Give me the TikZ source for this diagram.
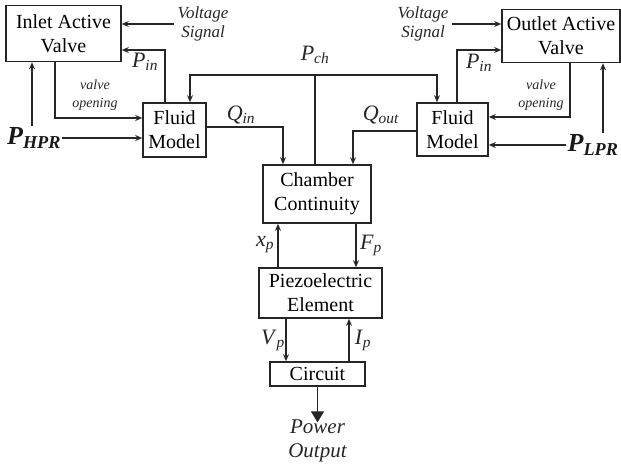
\documentclass[tikz,border=0pt]{standalone}
\usepackage{fontspec}
\setmainfont{Liberation Serif}
\usetikzlibrary{arrows.meta,calc}
\newcommand\lab[2]{\textit{#1}\textsubscript{\textit{#2}}}
\newcommand\blab[2]{\textbf{\textit{#1}}\textsubscript{\textbf{\textit{#2}}}}
\tikzset{
  blk/.style={draw=black!85, line width=1.6pt, align=center, inner sep=0pt,
    font=\fontsize{20}{24}\selectfont},
  arr/.style={draw=black!85, line width=1.2pt, -{Stealth[length=7pt,width=6pt]}},
  ln/.style={draw=black!85, line width=1.2pt},
  sig/.style={align=center, font=\fontsize{17}{19}\selectfont\itshape, text=black!85},
  vo/.style={align=center, font=\fontsize{14}{18}\selectfont\itshape, text=black!85},
  ml/.style={font=\fontsize{22}{24}\selectfont, text=black!85, inner sep=1pt},
  bl/.style={font=\fontsize{26}{28}\selectfont, text=black!90, inner sep=1pt},
  po/.style={align=center, font=\fontsize{21}{24}\selectfont\itshape, text=black!85}
}
\begin{document}
\begin{tikzpicture}[x=1pt,y=-1pt]
\useasboundingbox (0,0) rectangle (621,471);
% boxes
\node[blk, minimum width=115pt, minimum height=56pt] (iav) at (63.5,33.5) {Inlet Active\\Valve};
\node[blk, minimum width=118pt, minimum height=53pt] (oav) at (561,36) {Outlet Active\\Valve};
\node[blk, minimum width=63pt, minimum height=54pt] (fml) at (174.5,130) {Fluid\\Model};
\node[blk, minimum width=71pt, minimum height=53pt] (fmr) at (452.5,129.5) {Fluid\\Model};
\node[blk, minimum width=108pt, minimum height=58pt] (cc) at (317,194) {Chamber\\Continuity};
\node[blk, minimum width=123pt, minimum height=50pt] (pe) at (320.5,293) {Piezoelectric\\Element};
\node[blk, minimum width=95pt, minimum height=24pt] (ci) at (317.5,374) {Circuit};
% texts
\node[sig] (vsl) at (203,24) {Voltage\\Signal};
\node[sig] (vsr) at (423,24) {Voltage\\Signal};
\node[bl] (hpr) at (34,138) {\blab{P}{HPR}};
\node[bl] (lpr) at (593,145) {\blab{P}{LPR}};
\node[po] (pow) at (317.5,441) {Power\\Output};
\coordinate (top) at (315,75);
% labels
\node[ml] (lpch) at (315,55) {\lab{P}{ch}};
\node[ml] (lqin) at (241,115) {\lab{Q}{in}};
\node[ml] (lqout) at (381,115) {\lab{Q}{out}};
\node[ml] (lpinl) at (145,62) {\lab{P}{in}};
\node[ml] (lpinr) at (479,63) {\lab{P}{in}};
\node[vo] (lvol) at (95,95) {valve\\opening};
\node[vo] (lvor) at (541,95) {valve\\opening};
\node[ml] (lxp) at (265,245) {\lab{x}{p}};
\node[ml] (lfp) at (371,245) {\lab{F}{p}};
\node[ml] (lvp) at (273,340) {\lab{V}{p}};
\node[ml] (lip) at (363,340) {\lab{I}{p}};
% connectors
\draw[arr] (vsl.west) -- (vsl.west -| iav.east);
\draw[arr] (vsr.east) -- (vsr.east -| oav.west);
\draw[arr] ([xshift=-9.5pt]fml.north) |- ([yshift=-16.5pt]iav.east);
\draw[arr] ([xshift=4.5pt]fmr.north) |- ([yshift=-14pt]oav.west);
\draw[ln] (cc.north -| top) -- (top);
\draw[arr] (top) -| ([xshift=15.5pt]fml.north);
\draw[arr] (top) -| ([xshift=-15.5pt]fmr.north);
\draw[arr] ([yshift=3pt]fml.east) -| ([xshift=-34pt]cc.north);
\draw[arr] ([yshift=-1.5pt]fmr.west) -| ([xshift=36pt]cc.north);
\draw[arr] ([xshift=-8.5pt]iav.south) |- ([yshift=12pt]fml.west);
\draw[arr] ([xshift=9pt]oav.south) |- ([yshift=12.5pt]fmr.east);
\draw[arr] (hpr.east) -- (hpr.east -| fml.west);
\draw[arr] (lpr.west) -- (lpr.west -| fmr.east);
\draw[arr] ([xshift=-2pt]hpr.north) -- ([xshift=-2pt]hpr.north |- iav.south);
\draw[arr] ([xshift=10pt]lpr.north) -- ([xshift=10pt]lpr.north |- oav.south);
\draw[arr] ([xshift=-42.5pt]pe.north) -- ([xshift=-42.5pt]pe.north |- cc.south);
\draw[arr] ([xshift=39pt]cc.south) -- ([xshift=39pt]cc.south |- pe.north);
\draw[arr] ([xshift=-34.5pt]pe.south) -- ([xshift=-34.5pt]pe.south |- ci.north);
\draw[arr] ([xshift=31.5pt]ci.north) -- ([xshift=31.5pt]ci.north |- pe.south);
\draw[ln, -{Triangle[length=11pt,width=13pt]}] (ci.south) -- ([yshift=-6pt]pow.north);
\end{tikzpicture}
\end{document}
